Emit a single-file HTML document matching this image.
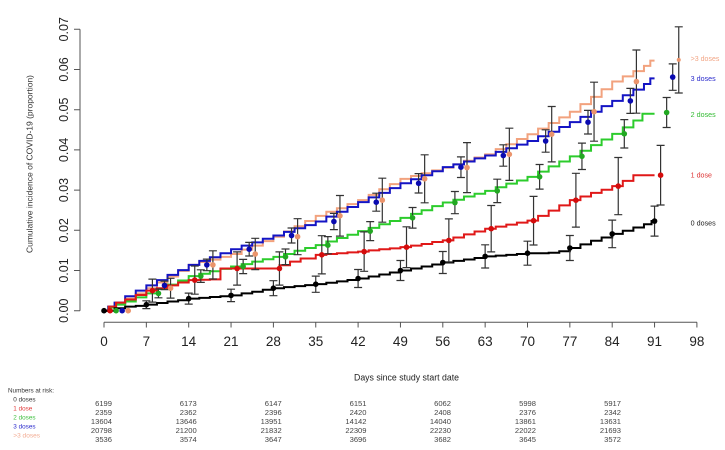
<!DOCTYPE html>
<html>
<head>
<meta charset="utf-8">
<style>
  html,body{margin:0;padding:0;background:#fff;}
  svg{display:block;}
  text{font-family:"Liberation Sans",Arial,sans-serif;}
</style>
</head>
<body>
<svg width="725" height="450" viewBox="0 0 725 450" xmlns="http://www.w3.org/2000/svg">
  <rect width="725" height="450" fill="#fff"/>

  <!-- Y axis -->
  <g stroke="#555" stroke-width="1" fill="none">
    <path d="M80 29.3V310.7"/>
    <path d="M74 310.7H80M74 270.5H80M74 230.3H80M74 190.1H80M74 149.9H80M74 109.7H80M74 69.5H80M74 29.3H80"/>
    <!-- X axis -->
    <path d="M104 322.3H697"/>
    <path d="M104 322.3V327.5M146.35 322.3V327.5M188.7 322.3V327.5M231.05 322.3V327.5M273.4 322.3V327.5M315.75 322.3V327.5M358.1 322.3V327.5M400.45 322.3V327.5M442.8 322.3V327.5M485.15 322.3V327.5M527.5 322.3V327.5M569.85 322.3V327.5M612.2 322.3V327.5M654.55 322.3V327.5M696.9 322.3V327.5"/>
  </g>

  <!-- Y tick labels -->
  <g font-size="12.5" fill="#222" text-anchor="middle">
    <text transform="translate(68,310.7) rotate(-90)">0.00</text>
    <text transform="translate(68,270.5) rotate(-90)">0.01</text>
    <text transform="translate(68,230.3) rotate(-90)">0.02</text>
    <text transform="translate(68,190.1) rotate(-90)">0.03</text>
    <text transform="translate(68,149.9) rotate(-90)">0.04</text>
    <text transform="translate(68,109.7) rotate(-90)">0.05</text>
    <text transform="translate(68,69.5) rotate(-90)">0.06</text>
    <text transform="translate(68,29.3) rotate(-90)">0.07</text>
  </g>
  <text transform="translate(32.5,164) rotate(-90)" font-size="8.5" fill="#333" text-anchor="middle" textLength="178" lengthAdjust="spacingAndGlyphs">Cumulative incidence of COVID-19 (proportion)</text>

  <!-- X tick labels -->
  <g font-size="13.5" fill="#222" text-anchor="middle">
    <text x="104" y="345.8">0</text>
    <text x="146.35" y="345.8">7</text>
    <text x="188.7" y="345.8">14</text>
    <text x="231.05" y="345.8">21</text>
    <text x="273.4" y="345.8">28</text>
    <text x="315.75" y="345.8">35</text>
    <text x="358.1" y="345.8">42</text>
    <text x="400.45" y="345.8">49</text>
    <text x="442.8" y="345.8">56</text>
    <text x="485.15" y="345.8">63</text>
    <text x="527.5" y="345.8">70</text>
    <text x="569.85" y="345.8">77</text>
    <text x="612.2" y="345.8">84</text>
    <text x="654.55" y="345.8">91</text>
    <text x="696.9" y="345.8">98</text>
  </g>
  <text x="354" y="380.5" font-size="9" fill="#222" textLength="105" lengthAdjust="spacingAndGlyphs">Days since study start date</text>

  <!-- Curves (data units: days, per-mille) -->
  <g transform="translate(104,310.7) scale(6.05,-4.02)" fill="none" stroke-width="2" stroke-linejoin="miter">
    <path vector-effect="non-scaling-stroke" stroke="#f2a27e" d="M0 0 H0.7 V1.0 H1.75 V1.8 H3.5 V3.0 H5.25 V4.3 H7 V5.6 H8.75 V7.0 H10.5 V8.5 H12.25 V9.9 H14 V11.4 H15.75 V12.1 H17.5 V12.7 H19.25 V13.4 H21 V14.1 H22.75 V15.2 H24.5 V16.2 H26.25 V17.3 H28 V18.4 H29.75 V19.7 H31.5 V21.0 H33.25 V22.3 H35 V23.6 H36.75 V24.6 H38.5 V25.5 H40.25 V26.5 H42 V27.5 H43.75 V28.8 H45.5 V30.2 H47.25 V31.5 H49 V32.8 H50.75 V33.5 H52.5 V34.2 H54.25 V34.9 H56 V35.6 H57.75 V36.4 H59.5 V37.3 H61.25 V38.1 H63 V38.9 H64.75 V40.2 H66.5 V41.4 H68.25 V42.7 H70 V43.9 H71.75 V45.3 H73.5 V46.7 H75.25 V48.1 H77 V49.5 H78.75 V51.4 H80.5 V53.2 H82.25 V55.1 H84 V57.0 H85.75 V58.3 H87.5 V59.6 H89.25 V60.9 H90.3 V62.2 H91"/>
    <path vector-effect="non-scaling-stroke" stroke="#1414c4" d="M0 0 H0.7 V1.0 H1.75 V2.0 H3.5 V3.6 H5.25 V5.0 H7 V6.3 H8.75 V7.6 H10.5 V8.9 H12.25 V10.1 H14 V11.4 H15.75 V12.4 H17.5 V13.3 H19.25 V14.3 H21 V15.3 H22.75 V16.2 H24.5 V17.0 H26.25 V17.9 H28 V18.7 H29.75 V19.6 H31.5 V20.5 H33.25 V21.3 H35 V22.2 H36.75 V23.4 H38.5 V24.6 H40.25 V25.8 H42 V27.0 H43.75 V28.2 H45.5 V29.3 H47.25 V30.5 H49 V31.7 H50.75 V32.7 H52.5 V33.7 H54.25 V34.7 H56 V35.7 H57.75 V36.4 H59.5 V37.1 H61.25 V37.9 H63 V38.6 H64.75 V39.5 H66.5 V40.4 H68.25 V41.3 H70 V42.2 H71.75 V43.4 H73.5 V44.5 H75.25 V45.7 H77 V46.9 H78.75 V48.2 H80.5 V49.5 H82.25 V50.9 H84 V52.2 H85.75 V53.6 H87.5 V55.0 H89.25 V56.4 H90.3 V57.8 H91"/>
    <path vector-effect="non-scaling-stroke" stroke="#2ccc2c" d="M0 0 H0.8 V0.8 H2 V1.5 H3.5 V2.3 H5.25 V3.3 H7 V4.3 H8.75 V5.4 H10.5 V6.5 H12.25 V7.5 H14 V8.6 H15.75 V9.2 H17.5 V9.8 H19.25 V10.4 H21 V11.0 H22.75 V11.6 H24.5 V12.2 H26.25 V12.8 H28 V13.4 H29.75 V14.1 H31.5 V14.9 H33.25 V15.6 H35 V16.3 H36.75 V17.2 H38.5 V18.1 H40.25 V18.9 H42 V19.8 H43.75 V20.6 H45.5 V21.5 H47.25 V22.3 H49 V23.1 H50.75 V24.1 H52.5 V25.0 H54.25 V26.0 H56 V26.9 H57.75 V27.6 H59.5 V28.4 H61.25 V29.1 H63 V29.8 H64.75 V30.7 H66.5 V31.6 H68.25 V32.4 H70 V33.3 H71.75 V34.6 H73.5 V35.9 H75.25 V37.1 H77 V38.4 H78.75 V39.8 H80.5 V41.2 H82.25 V42.6 H84 V44.0 H85.75 V45.6 H87.5 V47.3 H89 V49.0 H91"/>
    <path vector-effect="non-scaling-stroke" stroke="#e01818" d="M0 0 H0.8 V1.0 H2 V2.0 H3.5 V2.8 H5.25 V3.9 H7 V5.0 H8.75 V5.6 H10.5 V6.3 H12.25 V7.0 H14 V7.6 H15.75 V7.7 H17.5 V7.8 H19.25 V10.5 H29 V11.3 H30.75 V12.2 H32.5 V13.0 H35 V13.9 H36.75 V14.1 H38.5 V14.3 H40.25 V14.5 H42 V14.7 H43.75 V15.0 H45.5 V15.3 H47.25 V15.5 H49 V15.8 H50.75 V16.2 H52.5 V16.6 H54.25 V17.1 H56 V17.5 H57.75 V18.2 H59.5 V19.0 H61.25 V19.7 H63 V20.4 H64.75 V20.9 H66.5 V21.4 H68.25 V21.9 H70 V22.4 H71.75 V23.6 H73.5 V24.9 H75.25 V26.2 H77 V27.5 H78.75 V28.4 H80.5 V29.3 H82.25 V30.1 H84 V31.0 H85.75 V32.3 H87.5 V33.7 H91"/>
    <path vector-effect="non-scaling-stroke" stroke="#000" d="M0 0 H1.75 V0.6 H3.5 V1.0 H5.25 V1.2 H7 V1.5 H8.75 V1.9 H10.5 V2.3 H12.25 V2.6 H14 V3.0 H15.75 V3.2 H17.5 V3.4 H19.25 V3.6 H21 V3.8 H22.75 V4.3 H24.5 V4.7 H26.25 V5.2 H28 V5.6 H29.75 V5.85 H31.5 V6.1 H33.25 V6.35 H35 V6.6 H36.75 V6.95 H38.5 V7.3 H40.25 V7.65 H42 V8.0 H43.75 V8.5 H45.5 V9.0 H47.25 V9.5 H49 V10.0 H50.75 V10.5 H52.5 V11.0 H54.25 V11.5 H56 V12.0 H57.75 V12.4 H59.5 V12.75 H61.25 V13.1 H63 V13.5 H64.75 V13.7 H66.5 V13.9 H68.25 V14.1 H70 V14.3 H73.5 V14.4 H75.25 V14.8 H77 V15.6 H78.75 V16.5 H80.5 V17.4 H82.25 V18.2 H84 V19.1 H85.75 V19.9 H87.5 V20.7 H89.25 V21.5 H90.5 V22.3 H91"/>
  </g>

  <!-- Error bars -->
  <g fill="none" stroke="#333" stroke-width="1.2">
    <!-- black -->
    <path d="M142.35 300.8H150.35M146.35 300.8V308.6M142.35 308.6H150.35
             M184.7 293.1H192.7M188.7 293.1V304.1M184.7 304.1H192.7
             M227.05 289.2H235.05M231.05 289.2V301.6M227.05 301.6H235.05
             M269.4 280.7H277.4M273.4 280.7V295.7M269.4 295.7H277.4
             M311.75 276.1H319.75M315.75 276.1V292.3M311.75 292.3H319.75
             M354.1 269.5H362.1M358.1 269.5V287.5M354.1 287.5H362.1
             M396.45 260.5H404.45M400.45 260.5V280.5M396.45 280.5H404.45
             M438.8 251.5H446.8M442.8 251.5V273.5M438.8 273.5H446.8
             M481.15 244.8H489.15M485.15 244.8V268M481.15 268H489.15
             M523.5 241.2H531.5M527.5 241.2V265.2M523.5 265.2H531.5
             M565.85 235.5H573.85M569.85 235.5V260.5M565.85 260.5H573.85
             M608.2 220.1H616.2M612.2 220.1V247.7M608.2 247.7H616.2
             M650.55 206.1H658.55M654.55 206.1V236.1M650.55 236.1H658.55"/>
    <!-- red -->
    <path d="M148.4 279.1H156.4M152.4 279.1V302.1M148.4 302.1H156.4
             M190.75 266H198.75M194.75 266V294.2M190.75 294.2H198.75
             M233.1 251.9H241.1M237.1 251.9V285.1M233.1 285.1H241.1
             M275.45 251.9H283.45M279.45 251.9V285.1M275.45 285.1H283.45
             M317.8 235.7H325.8M321.8 235.7V273.9M317.8 273.9H325.8
             M360.15 231.9H368.15M364.15 231.9V271.3M360.15 271.3H368.15
             M402.5 226.8H410.5M406.5 226.8V267.6M402.5 267.6H410.5
             M444.85 218.9H452.85M448.85 218.9V261.9M444.85 261.9H452.85
             M487.2 205.5H495.2M491.2 205.5V251.9M487.2 251.9H495.2
             M529.55 196.4H537.55M533.55 196.4V245M529.55 245H537.55
             M571.9 173.3H579.9M575.9 173.3V227.1M571.9 227.1H579.9
             M614.25 157.5H622.25M618.25 157.5V214.7M614.25 214.7H622.25
             M656.6 145.4H664.6M660.6 145.4V205M656.6 205H664.6"/>
    <!-- green -->
    <path d="M154.45 289H162.45M158.45 289V297.8M154.45 297.8H162.45
             M196.8 269.8H204.8M200.8 269.8V282.4M196.8 282.4H204.8
             M239.15 259.4H247.15M243.15 259.4V273.6M239.15 273.6H247.15
             M281.5 249H289.5M285.5 249V264.6M281.5 264.6H289.5
             M323.85 236.6H331.85M327.85 236.6V253.8M323.85 253.8H331.85
             M366.2 221.6H374.2M370.2 221.6V240.6M366.2 240.6H374.2
             M408.55 207.5H416.55M412.55 207.5V228.1M408.55 228.1H416.55
             M450.9 191.5H458.9M454.9 191.5V213.7M450.9 213.7H458.9
             M493.25 179.2H501.25M497.25 179.2V202.6M493.25 202.6H501.25
             M535.6 164.5H543.6M539.6 164.5V189.1M535.6 189.1H543.6
             M577.95 143.1H585.95M581.95 143.1V169.5M577.95 169.5H585.95
             M620.3 119.6H628.3M624.3 119.6V148M620.3 148H628.3
             M662.65 97.5H670.65M666.65 97.5V127.5M662.65 127.5H670.65"/>
    <!-- blue -->
    <path d="M160.5 281.1H168.5M164.5 281.1V289.7M160.5 289.7H168.5
             M202.85 259.1H210.85M206.85 259.1V270.7M202.85 270.7H210.85
             M245.2 242.4H253.2M249.2 242.4V256M245.2 256H253.2
             M287.55 228H295.55M291.55 228V243M287.55 243H295.55
             M329.9 213.4H337.9M333.9 213.4V229.6M329.9 229.6H337.9
             M372.25 193.2H380.25M376.25 193.2V211.2M372.25 211.2H380.25
             M414.6 173.6H422.6M418.6 173.6V193M414.6 193H422.6
             M456.95 156.9H464.95M460.95 156.9V177.5M456.95 177.5H464.95
             M499.3 144.8H507.3M503.3 144.8V166.2M499.3 166.2H507.3
             M541.65 129.8H549.65M545.65 129.8V152.2M541.65 152.2H549.65
             M584 110.4H592M588 110.4V134M584 134H592
             M626.35 88.4H634.35M630.35 88.4V113.4M626.35 113.4H634.35
             M668.7 63.9H676.7M672.7 63.9V90.3M668.7 90.3H676.7"/>
    <!-- orange -->
    <path d="M166.55 278.3H174.55M170.55 278.3V298.1M166.55 298.1H174.55
             M208.9 250.8H216.9M212.9 250.8V279M208.9 279H216.9
             M251.25 238.3H259.25M255.25 238.3V269.7M251.25 269.7H259.25
             M293.6 218.7H301.6M297.6 218.7V254.7M293.6 254.7H301.6
             M335.95 195.5H343.95M339.95 195.5V236.1M335.95 236.1H343.95
             M378.3 178.2H386.3M382.3 178.2V222.2M378.3 222.2H386.3
             M420.65 154.8H428.65M424.65 154.8V202.8M420.65 202.8H428.65
             M463 142.6H471M467 142.6V192.6M463 192.6H471
             M505.35 128.2H513.35M509.35 128.2V180.4M505.35 180.4H513.35
             M547.7 106.5H555.7M551.7 106.5V161.9M547.7 161.9H555.7
             M590.05 82.2H598.05M594.05 82.2V141.2M590.05 141.2H598.05
             M632.4 50H640.4M636.4 50V113.2M632.4 113.2H640.4
             M674.75 26.8H682.75M678.75 26.8V93M674.75 93H682.75"/>
  </g>

  <!-- Markers -->
  <g fill="#000">
    <circle cx="104" cy="310.7" r="2.8"/><circle cx="146.35" cy="304.7" r="2.8"/><circle cx="188.7" cy="298.6" r="2.8"/><circle cx="231.05" cy="295.4" r="2.8"/><circle cx="273.4" cy="288.2" r="2.8"/><circle cx="315.75" cy="284.2" r="2.8"/><circle cx="358.1" cy="278.5" r="2.8"/><circle cx="400.45" cy="270.5" r="2.8"/><circle cx="442.8" cy="262.5" r="2.8"/><circle cx="485.15" cy="256.4" r="2.8"/><circle cx="527.5" cy="253.2" r="2.8"/><circle cx="569.85" cy="248" r="2.8"/><circle cx="612.2" cy="233.9" r="2.8"/><circle cx="654.55" cy="221.1" r="2.8"/>
  </g>
  <g fill="#d40c0c">
    <circle cx="110.05" cy="310.7" r="2.8"/><circle cx="152.4" cy="290.6" r="2.8"/><circle cx="194.75" cy="280.1" r="2.8"/><circle cx="237.1" cy="268.5" r="2.8"/><circle cx="279.45" cy="268.5" r="2.8"/><circle cx="321.8" cy="254.8" r="2.8"/><circle cx="364.15" cy="251.6" r="2.8"/><circle cx="406.5" cy="247.2" r="2.8"/><circle cx="448.85" cy="240.4" r="2.8"/><circle cx="491.2" cy="228.7" r="2.8"/><circle cx="533.55" cy="220.7" r="2.8"/><circle cx="575.9" cy="200.2" r="2.8"/><circle cx="618.25" cy="186.1" r="2.8"/><circle cx="660.6" cy="175.2" r="2.8"/>
  </g>
  <g fill="#22a822">
    <circle cx="116.1" cy="310.7" r="2.8"/><circle cx="158.45" cy="293.4" r="2.8"/><circle cx="200.8" cy="276.1" r="2.8"/><circle cx="243.15" cy="266.5" r="2.8"/><circle cx="285.5" cy="256.8" r="2.8"/><circle cx="327.85" cy="245.2" r="2.8"/><circle cx="370.2" cy="231.1" r="2.8"/><circle cx="412.55" cy="217.8" r="2.8"/><circle cx="454.9" cy="202.6" r="2.8"/><circle cx="497.25" cy="190.9" r="2.8"/><circle cx="539.6" cy="176.8" r="2.8"/><circle cx="581.95" cy="156.3" r="2.8"/><circle cx="624.3" cy="133.8" r="2.8"/><circle cx="666.65" cy="112.5" r="2.8"/>
  </g>
  <g fill="#0a0ab0">
    <circle cx="122.15" cy="310.7" r="2.8"/><circle cx="164.5" cy="285.4" r="2.8"/><circle cx="206.85" cy="264.9" r="2.8"/><circle cx="249.2" cy="249.2" r="2.8"/><circle cx="291.55" cy="235.5" r="2.8"/><circle cx="333.9" cy="221.5" r="2.8"/><circle cx="376.25" cy="202.2" r="2.8"/><circle cx="418.6" cy="183.3" r="2.8"/><circle cx="460.95" cy="167.2" r="2.8"/><circle cx="503.3" cy="155.5" r="2.8"/><circle cx="545.65" cy="141" r="2.8"/><circle cx="588" cy="122.2" r="2.8"/><circle cx="630.35" cy="100.9" r="2.8"/><circle cx="672.7" cy="77.1" r="2.8"/>
  </g>
  <g fill="#eb946c">
    <circle cx="128.2" cy="310.7" r="2.8"/><circle cx="170.55" cy="288.2" r="2.8"/><circle cx="212.9" cy="264.9" r="2.8"/><circle cx="255.25" cy="254" r="2.8"/><circle cx="297.6" cy="236.7" r="2.8"/><circle cx="339.95" cy="215.8" r="2.8"/><circle cx="382.3" cy="200.2" r="2.8"/><circle cx="424.65" cy="178.8" r="2.8"/><circle cx="467" cy="167.6" r="2.8"/><circle cx="509.35" cy="154.3" r="2.8"/><circle cx="551.7" cy="134.2" r="2.8"/><circle cx="594.05" cy="111.7" r="2.8"/><circle cx="636.4" cy="81.6" r="2.8"/><circle cx="678.75" cy="59.9" r="2"/>
  </g>

  <!-- Right labels -->
  <g font-size="7">
    <text x="690.7" y="60.8" fill="#f2a585" textLength="28.7" lengthAdjust="spacingAndGlyphs">&gt;3 doses</text>
    <text x="690.7" y="80.8" fill="#2a2acc" textLength="25" lengthAdjust="spacingAndGlyphs">3 doses</text>
    <text x="690.7" y="117.2" fill="#33bb33" textLength="25" lengthAdjust="spacingAndGlyphs">2 doses</text>
    <text x="690.7" y="177.5" fill="#dd3333" textLength="21.3" lengthAdjust="spacingAndGlyphs">1 dose</text>
    <text x="690.7" y="225.5" fill="#222" textLength="25" lengthAdjust="spacingAndGlyphs">0 doses</text>
  </g>

  <!-- Numbers at risk -->
  <g font-size="6.5">
    <text x="8" y="392.3" fill="#333" textLength="46" lengthAdjust="spacingAndGlyphs">Numbers at risk:</text>
    <text x="13.3" y="401.3" fill="#333" textLength="22.3" lengthAdjust="spacingAndGlyphs">0 doses</text>
    <text x="13.3" y="410.3" fill="#e03a3a" textLength="19" lengthAdjust="spacingAndGlyphs">1 dose</text>
    <text x="13.3" y="419.3" fill="#3fbf3f" textLength="22.3" lengthAdjust="spacingAndGlyphs">2 doses</text>
    <text x="13.3" y="428.3" fill="#2a2acc" textLength="22.3" lengthAdjust="spacingAndGlyphs">3 doses</text>
    <text x="13.3" y="437.3" fill="#f2ab92" textLength="26.7" lengthAdjust="spacingAndGlyphs">&gt;3 doses</text>
  </g>
  <g font-size="7.6" fill="#444" text-anchor="end">
    <text x="112" y="405.8">6199</text><text x="196.7" y="405.8">6173</text><text x="281.7" y="405.8">6147</text><text x="366.5" y="405.8">6151</text><text x="451" y="405.8">6062</text><text x="536" y="405.8">5998</text><text x="621" y="405.8">5917</text>
    <text x="112" y="414.8">2359</text><text x="196.7" y="414.8">2362</text><text x="281.7" y="414.8">2396</text><text x="366.5" y="414.8">2420</text><text x="451" y="414.8">2408</text><text x="536" y="414.8">2376</text><text x="621" y="414.8">2342</text>
    <text x="112" y="423.8">13604</text><text x="196.7" y="423.8">13646</text><text x="281.7" y="423.8">13951</text><text x="366.5" y="423.8">14142</text><text x="451" y="423.8">14040</text><text x="536" y="423.8">13861</text><text x="621" y="423.8">13631</text>
    <text x="112" y="432.8">20798</text><text x="196.7" y="432.8">21200</text><text x="281.7" y="432.8">21832</text><text x="366.5" y="432.8">22309</text><text x="451" y="432.8">22230</text><text x="536" y="432.8">22022</text><text x="621" y="432.8">21693</text>
    <text x="112" y="441.8">3536</text><text x="196.7" y="441.8">3574</text><text x="281.7" y="441.8">3647</text><text x="366.5" y="441.8">3696</text><text x="451" y="441.8">3682</text><text x="536" y="441.8">3645</text><text x="621" y="441.8">3572</text>
  </g>
</svg>
</body>
</html>
